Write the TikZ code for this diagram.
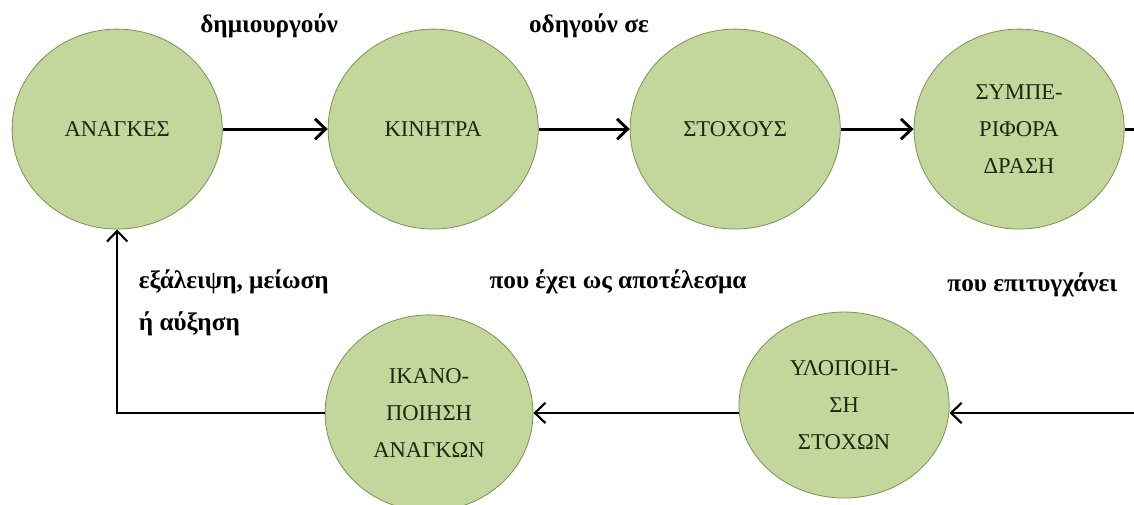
\documentclass[tikz,border=0pt]{standalone}
\usepackage{fontspec}
\setmainfont{Liberation Serif}
\usetikzlibrary{arrows.meta,shapes.geometric}
\definecolor{leafgreen}{HTML}{C3D69B}
\definecolor{leafedge}{HTML}{7F8F55}
\definecolor{leafink}{HTML}{1E2614}

\begin{document}
\begin{tikzpicture}[every node/.style={font=\fontsize{17}{28}\selectfont},
	>={Straight Barb[length=2.8mm,width=5.4mm]},
	bubble/.style={ellipse, fill=leafgreen, draw=leafedge, line width=0.6pt, inner sep=0pt, align=center, text=leafink, minimum width=5.56cm, minimum height=5.29cm},
	verb/.style={font=\fontsize{19}{31.5}\selectfont\bfseries, align=left},
	topline/.style={line width=2.2pt},
	lowline/.style={line width=1.6pt}]
	\useasboundingbox (0,0) rectangle (30,13.335);
	\node[bubble] (needs) at (3.10,9.92) {ΑΝΑΓΚΕΣ};
	\node[bubble] (motives) at (11.46,9.92) {ΚΙΝΗΤΡΑ};
	\node[bubble] (goals) at (19.45,9.92) {ΣΤΟΧΟΥΣ};
	\node[bubble] (behaviour) at (26.96,9.92) {ΣΥΜΠΕ-\\ΡΙΦΟΡΑ\\ΔΡΑΣΗ};
	\node[bubble, minimum width=5.50cm, minimum height=5.19cm] (fulfil) at (11.35,2.41) {ΙΚΑΝΟ-\\ΠΟΙΗΣΗ\\ΑΝΑΓΚΩΝ};
	\node[bubble, minimum height=4.92cm] (achieve) at (22.33,2.62) {ΥΛΟΠΟΙΗ-\\ΣΗ\\ΣΤΟΧΩΝ};
	\coordinate (edgeout) at (30,9.92);
	\coordinate (edgein) at (30,2.41);
	% labels
	\node[verb] (create) at (7.12,12.65) {δημιουργούν};
	\node[verb] (lead) at (15.58,12.65) {οδηγούν σε};
	\node[verb, anchor=west] (remove) at (3.55,5.32) {εξάλειψη, μείωση\\ή αύξηση};
	\node[verb] (result) at (16.35,5.87) {που έχει ως αποτέλεσμα};
	\node[verb] (reach) at (27.31,5.79) {που επιτυγχάνει};
	% connectors
	\draw[->, topline] (needs) -- (motives);
	\draw[->, topline] (motives) -- (goals);
	\draw[->, topline] (goals) -- (behaviour);
	\draw[topline] (behaviour) -- (edgeout);
	\draw[->, lowline] (edgein) -- (achieve.east |- edgein);
	\draw[->, lowline] (achieve.west |- fulfil) -- (fulfil);
	\draw[->, lowline] (fulfil) -- (needs |- fulfil) -- (needs);
\end{tikzpicture}
\end{document}
